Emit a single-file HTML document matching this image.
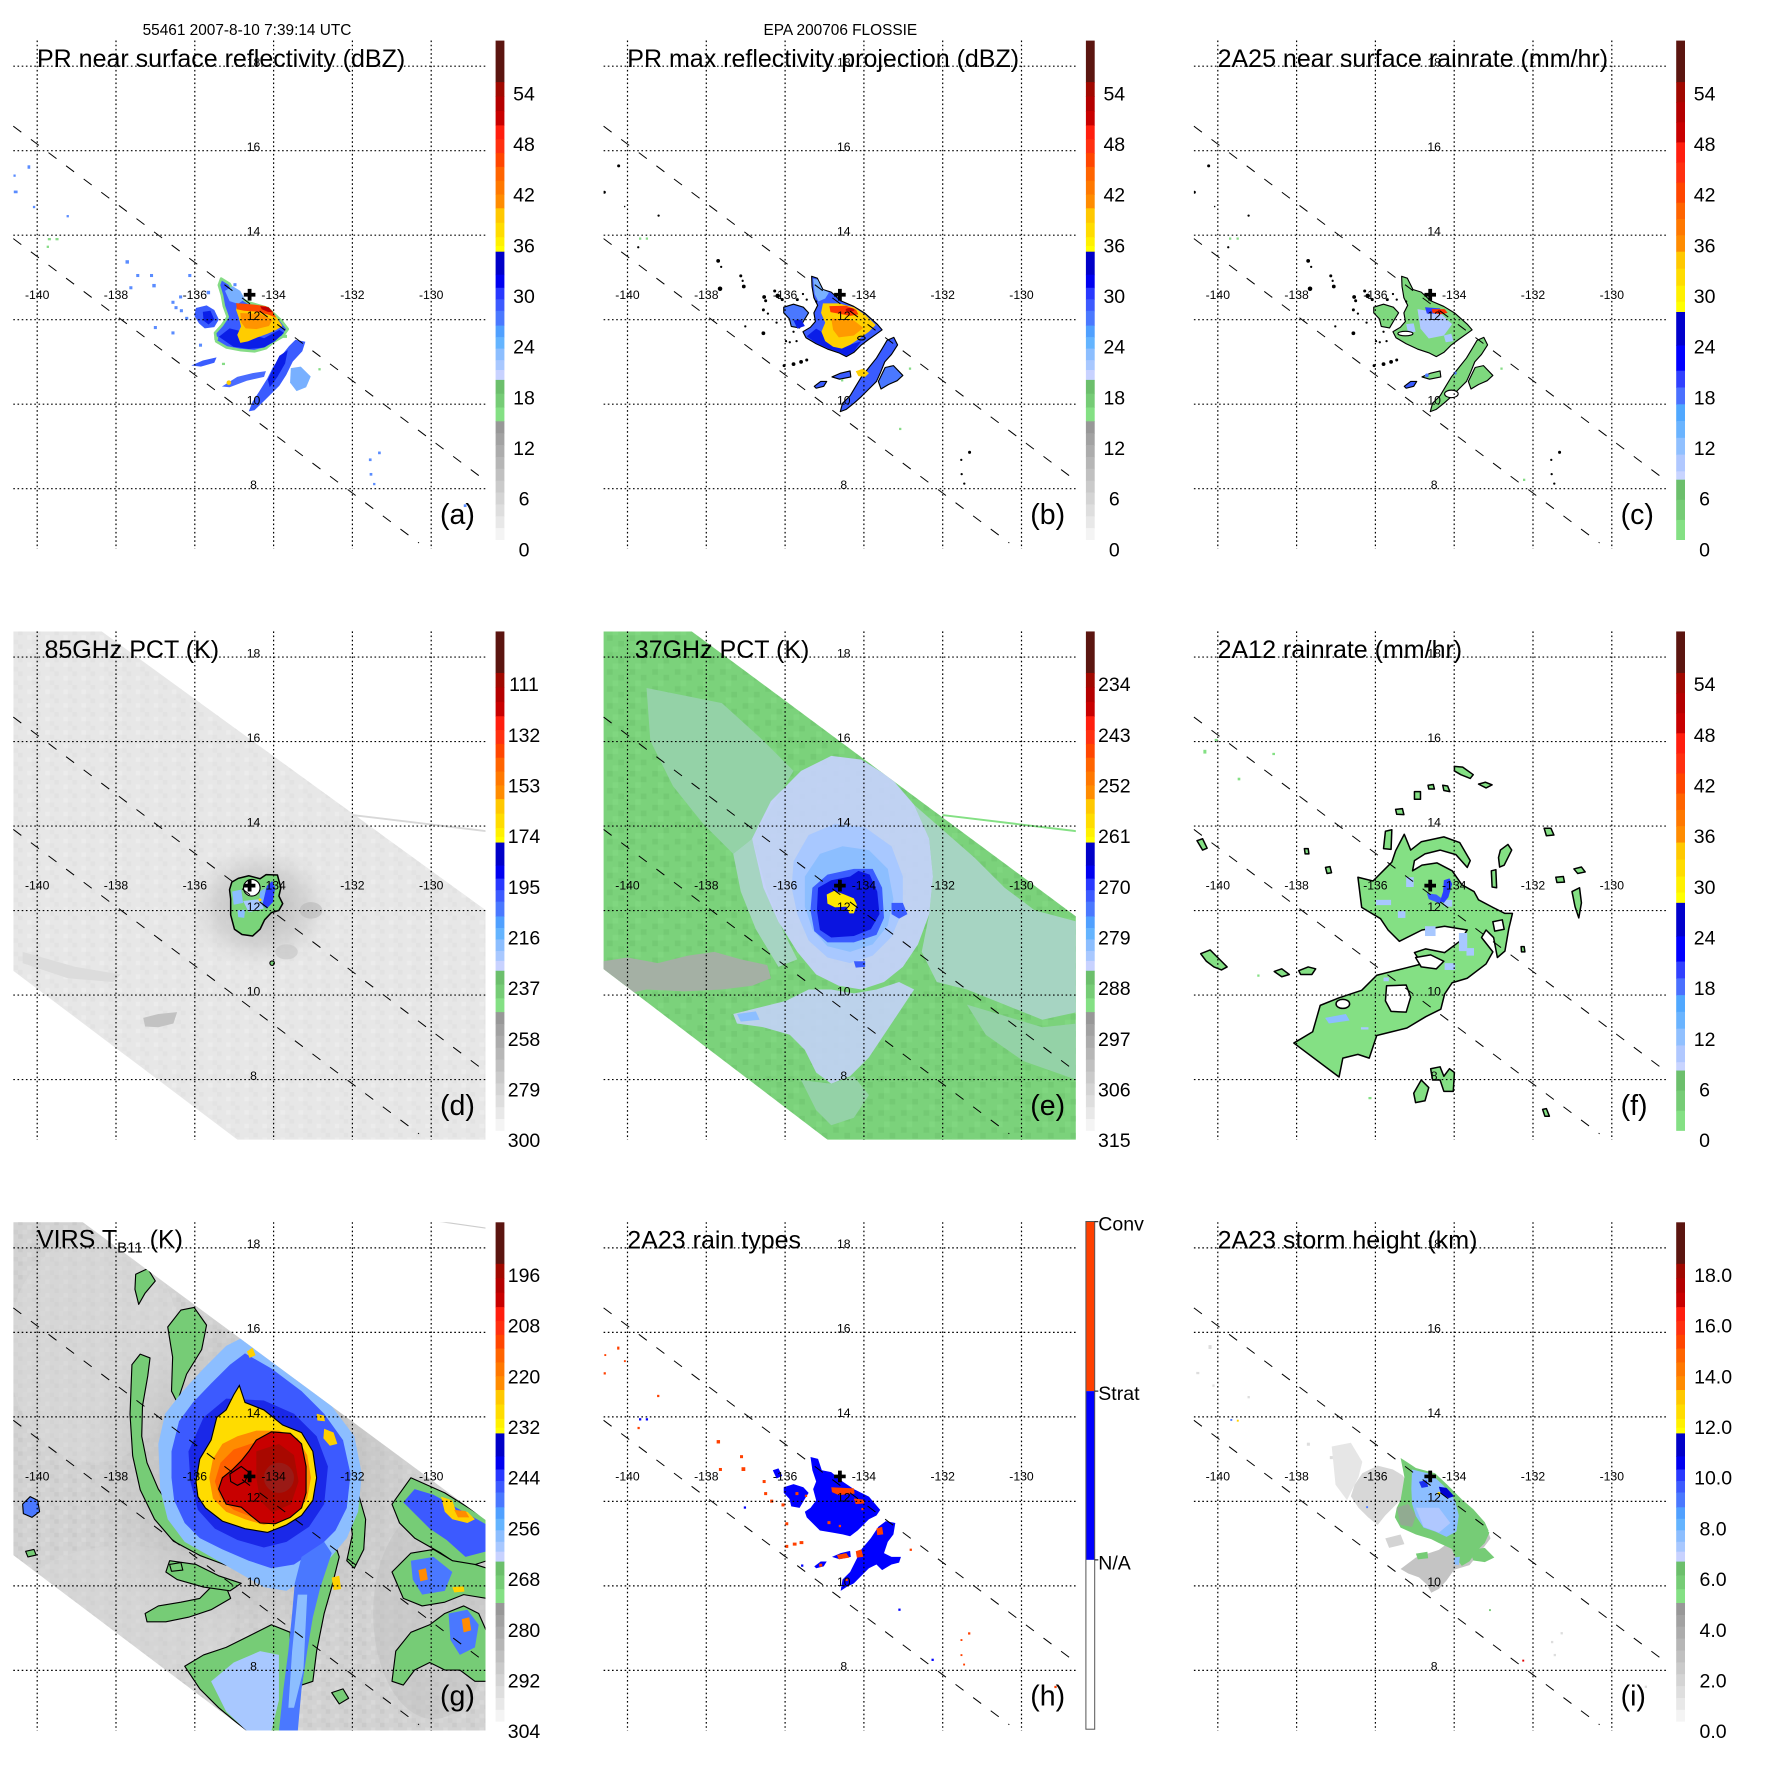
<!DOCTYPE html>
<html><head><meta charset="utf-8"><style>
html,body{margin:0;padding:0;background:#fff;}
svg{display:block;font-family:"Liberation Sans",Arial,sans-serif;}
</style></head><body>
<svg width="1771" height="1771" viewBox="0 0 1771 1771" xmlns="http://www.w3.org/2000/svg">
<defs>
<clipPath id="plot"><rect x="13.3" y="40.5" width="472.2" height="508.3"/></clipPath>
<clipPath id="swg"><polygon points="35,110 217,110 1292,905 1292,1462 655,1462 35,995"/></clipPath>
<clipPath id="swe"><polygon points="35,110 270,110 1292,868 1292,1462 635,1462 35,1005"/></clipPath>
<clipPath id="swd"><polygon points="35,110 270,110 1292,852 1292,1462 635,1462 35,1010"/></clipPath>
<pattern id="motG" width="60" height="45" patternUnits="userSpaceOnUse">
 <rect x="15" y="0" width="15" height="15" fill="#6cc06c"/><rect x="45" y="30" width="15" height="15" fill="#6cc06c"/><rect x="0" y="15" width="15" height="15" fill="#86dc86"/>
</pattern>
<pattern id="motGr" width="48" height="36" patternUnits="userSpaceOnUse">
 <rect x="0" y="0" width="12" height="12" fill="#c4c4c4"/><rect x="24" y="12" width="12" height="12" fill="#dedede"/><rect x="36" y="24" width="12" height="12" fill="#c8c8c8"/><rect x="12" y="24" width="12" height="12" fill="#dadada"/>
</pattern>
<pattern id="motD" width="48" height="36" patternUnits="userSpaceOnUse">
 <rect x="0" y="0" width="12" height="12" fill="#dedede"/><rect x="24" y="12" width="12" height="12" fill="#efefef"/><rect x="36" y="24" width="12" height="12" fill="#e0e0e0"/>
</pattern>
<radialGradient id="rgG" cx="0.5" cy="0.5" r="0.5">
 <stop offset="0" stop-color="#a8a8a8" stop-opacity="0.7"/><stop offset="0.6" stop-color="#b8b8b8" stop-opacity="0.45"/><stop offset="1" stop-color="#c8c8c8" stop-opacity="0"/>
</radialGradient>
<radialGradient id="rgD" cx="0.5" cy="0.5" r="0.5">
 <stop offset="0" stop-color="#a8a8a8" stop-opacity="0.8"/><stop offset="0.6" stop-color="#c0c0c0" stop-opacity="0.5"/><stop offset="1" stop-color="#d8d8d8" stop-opacity="0"/>
</radialGradient>
<g id="grid">
 <g stroke="#000" stroke-width="1.2" stroke-dasharray="1.6 2.6" fill="none">
  <line x1="37.2" y1="40.5" x2="37.2" y2="549"/><line x1="116" y1="40.5" x2="116" y2="549"/><line x1="194.8" y1="40.5" x2="194.8" y2="549"/><line x1="273.6" y1="40.5" x2="273.6" y2="549"/><line x1="352.4" y1="40.5" x2="352.4" y2="549"/><line x1="431.2" y1="40.5" x2="431.2" y2="549"/>
  <line x1="13.3" y1="66.2" x2="485.5" y2="66.2"/><line x1="13.3" y1="150.7" x2="485.5" y2="150.7"/><line x1="13.3" y1="235.2" x2="485.5" y2="235.2"/><line x1="13.3" y1="319.7" x2="485.5" y2="319.7"/><line x1="13.3" y1="404.2" x2="485.5" y2="404.2"/><line x1="13.3" y1="488.7" x2="485.5" y2="488.7"/>
 </g>
 <g stroke="#000" stroke-width="1" stroke-dasharray="10 12" fill="none">
  <line x1="13.3" y1="126.2" x2="485.5" y2="480.6"/>
  <line x1="13.3" y1="238.6" x2="419" y2="543"/>
 </g>
 <path d="M243.8,292.9h11.6v3.7h-11.6z M247.7,288.9h3.8v11.7h-3.8z" fill="#000"/>
</g>
<g id="cbA">
 <rect x="495.6" y="40.6" width="8.8" height="42" fill="#5b1510"/>
 <rect x="495.6" y="82.1" width="8.8" height="14.9" fill="#a00800"/>
 <rect x="495.6" y="96.5" width="8.8" height="15" fill="#b40000"/>
 <rect x="495.6" y="111" width="8.8" height="14.9" fill="#c80000"/>
 <rect x="495.6" y="125.4" width="8.8" height="14.3" fill="#ff1e0e"/>
 <rect x="495.6" y="139.2" width="8.8" height="14.4" fill="#ff3010"/>
 <rect x="495.6" y="153.1" width="8.8" height="14.3" fill="#ff4600"/>
 <rect x="495.6" y="166.9" width="8.8" height="14.3" fill="#ff6400"/>
 <rect x="495.6" y="180.7" width="8.8" height="14.3" fill="#ff7800"/>
 <rect x="495.6" y="194.5" width="8.8" height="14.3" fill="#ff8c00"/>
 <rect x="495.6" y="208.3" width="8.8" height="15" fill="#ffc800"/>
 <rect x="495.6" y="222.8" width="8.8" height="15" fill="#ffdc00"/>
 <rect x="495.6" y="237.2" width="8.8" height="9.3" fill="#fff000"/>
 <rect x="495.6" y="246" width="8.8" height="6.2" fill="#ffff00"/>
 <rect x="495.6" y="251.7" width="8.8" height="23.5" fill="#0000c8"/>
 <rect x="495.6" y="274.7" width="8.8" height="13.6" fill="#0000f0"/>
 <rect x="495.6" y="287.8" width="8.8" height="12" fill="#2838ff"/>
 <rect x="495.6" y="299.3" width="8.8" height="12" fill="#3c5aff"/>
 <rect x="495.6" y="310.8" width="8.8" height="15.3" fill="#4a78ff"/>
 <rect x="495.6" y="325.6" width="8.8" height="12" fill="#50a0ff"/>
 <rect x="495.6" y="337.1" width="8.8" height="12" fill="#64b4ff"/>
 <rect x="495.6" y="348.6" width="8.8" height="12" fill="#8cbeff"/>
 <rect x="495.6" y="360.1" width="8.8" height="10.4" fill="#a8c8ff"/>
 <rect x="495.6" y="370" width="8.8" height="10.4" fill="#c8d2ff"/>
 <rect x="495.6" y="379.9" width="8.8" height="14.3" fill="#6cbf6c"/>
 <rect x="495.6" y="393.7" width="8.8" height="14.3" fill="#76cc76"/>
 <rect x="495.6" y="407.5" width="8.8" height="14.3" fill="#84e084"/>
 <rect x="495.6" y="421.3" width="8.8" height="12.4" fill="#989898"/>
 <rect x="495.6" y="433.2" width="8.8" height="12.4" fill="#a2a2a2"/>
 <rect x="495.6" y="445" width="8.8" height="12.4" fill="#acacac"/>
 <rect x="495.6" y="456.9" width="8.8" height="12.4" fill="#b6b6b6"/>
 <rect x="495.6" y="468.8" width="8.8" height="12.4" fill="#c0c0c0"/>
 <rect x="495.6" y="480.7" width="8.8" height="12.4" fill="#cacaca"/>
 <rect x="495.6" y="492.5" width="8.8" height="12.4" fill="#d4d4d4"/>
 <rect x="495.6" y="504.4" width="8.8" height="12.4" fill="#dedede"/>
 <rect x="495.6" y="516.3" width="8.8" height="12.4" fill="#e8e8e8"/>
 <rect x="495.6" y="528.1" width="8.8" height="11.9" fill="#f4f4f4"/>
</g>
<g id="cbC">
 <rect x="495.6" y="40.6" width="8.8" height="42" fill="#5b1510"/>
 <rect x="495.6" y="82.1" width="8.8" height="20.6" fill="#a00800"/>
 <rect x="495.6" y="102.2" width="8.8" height="20.6" fill="#b40000"/>
 <rect x="495.6" y="122.3" width="8.8" height="20.6" fill="#c80000"/>
 <rect x="495.6" y="142.4" width="8.8" height="20.6" fill="#ff1e0e"/>
 <rect x="495.6" y="162.5" width="8.8" height="20.6" fill="#ff3010"/>
 <rect x="495.6" y="182.6" width="8.8" height="20.6" fill="#ff4600"/>
 <rect x="495.6" y="202.7" width="8.8" height="16.8" fill="#ff6400"/>
 <rect x="495.6" y="219" width="8.8" height="16.8" fill="#ff7800"/>
 <rect x="495.6" y="235.3" width="8.8" height="16.9" fill="#ff8c00"/>
 <rect x="495.6" y="251.7" width="8.8" height="17.5" fill="#ffc800"/>
 <rect x="495.6" y="268.7" width="8.8" height="17.5" fill="#ffdc00"/>
 <rect x="495.6" y="285.7" width="8.8" height="16.5" fill="#fff000"/>
 <rect x="495.6" y="301.7" width="8.8" height="10.8" fill="#ffff00"/>
 <rect x="495.6" y="312" width="8.8" height="34" fill="#0000cc"/>
 <rect x="495.6" y="345.5" width="8.8" height="25.7" fill="#0000ff"/>
 <rect x="495.6" y="370.7" width="8.8" height="17.3" fill="#3040ff"/>
 <rect x="495.6" y="387.5" width="8.8" height="17.3" fill="#4a70ff"/>
 <rect x="495.6" y="404.3" width="8.8" height="17.2" fill="#50a8ff"/>
 <rect x="495.6" y="421" width="8.8" height="17.3" fill="#6ab4ff"/>
 <rect x="495.6" y="437.8" width="8.8" height="17.3" fill="#90c0ff"/>
 <rect x="495.6" y="454.6" width="8.8" height="17.2" fill="#b0c8ff"/>
 <rect x="495.6" y="471.3" width="8.8" height="8.9" fill="#c8d4ff"/>
 <rect x="495.6" y="479.7" width="8.8" height="20.6" fill="#6cbf6c"/>
 <rect x="495.6" y="499.8" width="8.8" height="20.6" fill="#76cc76"/>
 <rect x="495.6" y="519.9" width="8.8" height="20.1" fill="#84e084"/>
</g>
</defs>

<!-- ================= (a) ================= -->
<g transform="translate(0,0)">
 <g clip-path="url(#plot)"><g transform="scale(0.38266)">
  <polygon fill="#3a5cff" stroke="#86dc86" stroke-width="7" stroke-linejoin="round" points="578,728 600,742 615,770 648,790 700,805 735,838 752,860 738,880 715,893 695,910 665,918 630,915 592,908 565,892 562,870 580,850 595,828 585,800 580,772 572,745"/>
  <polygon fill="#0a1ee8" points="572,880 600,858 640,868 690,884 730,862 742,870 718,892 690,908 650,912 610,906"/>
  <polygon fill="#78b0ff" points="588,760 608,748 628,760 640,782 622,794 600,787"/>
  <polygon fill="#ffcc00" points="620,795 665,800 695,806 722,828 738,852 722,862 700,872 672,882 648,892 628,896 620,875 630,853 624,830 617,810"/>
  <polygon fill="#ff9400" points="628,818 680,820 712,836 703,852 670,860 642,858 630,842"/>
  <polygon fill="#ff4a00" points="617,792 665,796 695,800 713,815 722,830 700,822 668,814 638,812 619,808"/>
  <polygon fill="#c00000" points="680,800 702,803 714,816 700,815 684,808"/>
  <polygon fill="#3a5cff" points="512,805 540,798 560,810 572,835 560,855 535,858 520,845 508,825"/>
  <polygon fill="#0a1ee8" points="530,815 550,812 560,835 545,848 532,838"/>
  <polygon fill="#3a5cff" points="772,888 798,893 790,918 765,945 748,980 730,1008 708,1030 688,1050 665,1072 650,1075 660,1050 678,1022 698,990 713,960 735,930 755,905"/>
  <polygon fill="#0a1ee8" points="730,930 752,915 745,950 725,985 705,1012 700,992 715,960"/>
  <polygon fill="#78b0ff" points="760,962 786,958 812,984 800,1012 775,1022 758,1000"/>
  <polygon fill="#4a6cff" points="580,1010 620,985 660,975 695,970 690,985 645,995 600,1012"/>
  <circle fill="#ffcc00" cx="598" cy="1000" r="6"/>
  <polygon fill="#3a5cff" points="500,955 530,942 566,934 560,948 525,958"/>
  <g fill="#5a8cff">
   <rect x="328" y="680" width="9" height="9"/><rect x="356" y="716" width="8" height="8"/><rect x="392" y="716" width="8" height="8"/><rect x="398" y="742" width="9" height="9"/><rect x="338" y="748" width="8" height="8"/><rect x="448" y="786" width="8" height="8"/><rect x="456" y="800" width="8" height="8"/><rect x="470" y="808" width="8" height="8"/><rect x="484" y="828" width="8" height="8"/><rect x="448" y="866" width="8" height="8"/><rect x="402" y="852" width="8" height="8"/><rect x="492" y="716" width="8" height="8"/><rect x="468" y="772" width="8" height="8"/><rect x="520" y="898" width="8" height="8"/><rect x="72" y="432" width="7" height="9"/><rect x="36" y="498" width="10" height="7"/><rect x="35" y="456" width="6" height="6"/><rect x="86" y="538" width="6" height="6"/><rect x="174" y="562" width="6" height="6"/><rect x="964" y="1198" width="7" height="7"/><rect x="988" y="1180" width="7" height="7"/><rect x="966" y="1236" width="7" height="7"/><rect x="975" y="1262" width="6" height="6"/><rect x="1212" y="1318" width="7" height="7"/><rect x="540" y="760" width="9" height="9"/><rect x="610" y="740" width="8" height="8"/>
  </g>
  <g fill="#86dc86"><rect x="125" y="622" width="8" height="6"/><rect x="145" y="622" width="8" height="6"/><rect x="122" y="642" width="6" height="6"/><rect x="832" y="962" width="6" height="6"/><rect x="580" y="948" width="8" height="6"/><rect x="560" y="880" width="10" height="8"/><rect x="740" y="875" width="10" height="8"/></g>
 </g></g>
 <use href="#grid"/>
 <g font-size="12.2" text-anchor="middle" fill="#000">
  <text x="37.2" y="298.8">-140</text><text x="116" y="298.8">-138</text><text x="194.8" y="298.8">-136</text><text x="273.6" y="298.8">-134</text><text x="352.4" y="298.8">-132</text><text x="431.2" y="298.8">-130</text>
  <text x="253.5" y="66.5">18</text><text x="253.5" y="151">16</text><text x="253.5" y="235.5">14</text><text x="253.5" y="320">12</text><text x="253.5" y="404.5">10</text><text x="253.5" y="489">8</text>
 </g>
 <use href="#cbA"/>
 <g font-size="19.5" text-anchor="middle"><text x="524" y="100.3">54</text><text x="524" y="151">48</text><text x="524" y="201.6">42</text><text x="524" y="252.3">36</text><text x="524" y="303">30</text><text x="524" y="353.7">24</text><text x="524" y="404.4">18</text><text x="524" y="455.1">12</text><text x="524" y="505.7">6</text><text x="524" y="556.4">0</text></g>
 <text x="247" y="35" font-size="15.4" text-anchor="middle">55461 2007-8-10 7:39:14 UTC</text>
 <text x="37" y="67" font-size="25">PR near surface reflectivity (dBZ)</text>
 <text x="440" y="524" font-size="28.5">(a)</text>
</g>

<!-- ================= (b) ================= -->
<g transform="translate(590.3,0)">
 <g clip-path="url(#plot)"><g transform="translate(-0.3,0) scale(0.37693)">
  <g stroke="#000" stroke-width="3" stroke-linejoin="round">
   <polygon fill="#3a5cff" points="588,733 603,738 618,768 640,775 665,798 700,813 728,830 762,860 775,875 760,886 740,900 720,915 700,935 680,946 660,936 630,926 600,912 573,896 565,880 585,868 598,853 594,830 604,810 594,790 589,760"/>
   <polygon fill="#3a5cff" points="788,903 806,895 816,915 800,940 782,960 770,990 760,1012 740,1032 720,1052 700,1070 680,1086 664,1092 670,1070 690,1050 705,1025 720,1000 740,975 760,950 775,925"/>
   <polygon fill="#4a78ff" points="783,975 805,970 830,996 815,1010 792,1020 772,1032 765,1012"/>
   <polygon fill="#3a5cff" points="642,1000 665,990 690,984 692,1000 662,1006"/>
   <polygon fill="#3a5cff" points="595,1025 612,1012 628,1012 620,1025 600,1030"/>
   <polygon fill="#4a78ff" points="514,815 540,807 566,815 580,830 570,846 556,870 534,866 529,846 514,830"/>
  </g>
  <polygon fill="#0a1ee8" points="575,892 600,872 640,895 680,918 720,905 700,933 680,944 660,934 630,924 600,910"/>
  <polygon fill="#78b0ff" points="592,740 604,742 616,768 634,776 624,792 606,800 596,780"/>
  <polygon fill="#ffd000" points="618,805 660,805 700,815 730,835 758,862 740,880 712,900 690,915 668,925 645,920 624,905 614,880 624,856 613,830"/>
  <polygon fill="#ff9a00" points="640,845 700,850 725,870 700,890 660,895 645,875"/>
  <polygon fill="#ff3a00" points="635,812 680,811 706,822 712,834 690,838 660,832 638,828"/>
  <ellipse cx="690" cy="822" rx="12" ry="5" fill="#c00000"/>
  <ellipse cx="720" cy="897" rx="10" ry="5" fill="none" stroke="#000" stroke-width="3"/>
  <polygon fill="#ffd000" points="705,985 725,978 740,990 730,1000 712,998"/>
  <polygon fill="#0a1ee8" points="540,850 560,848 570,865 550,872"/>
  <g fill="#000">
   <circle cx="340" cy="692" r="5"/><circle cx="348" cy="708" r="3"/><circle cx="400" cy="732" r="4"/><circle cx="405" cy="745" r="3"/><circle cx="345" cy="766" r="6"/><circle cx="408" cy="760" r="5"/><circle cx="462" cy="788" r="5"/><circle cx="466" cy="798" r="4"/><circle cx="490" cy="772" r="4"/><circle cx="498" cy="785" r="6"/><circle cx="510" cy="795" r="4"/><circle cx="460" cy="822" r="4"/><circle cx="472" cy="832" r="3"/><circle cx="495" cy="856" r="3"/><circle cx="540" cy="880" r="3"/><circle cx="520" cy="905" r="3"/><circle cx="460" cy="884" r="5"/><circle cx="412" cy="866" r="3"/><circle cx="515" cy="970" r="4"/><circle cx="540" cy="966" r="5"/><circle cx="560" cy="960" r="5"/><circle cx="575" cy="955" r="4"/><circle cx="530" cy="908" r="3"/><circle cx="548" cy="905" r="3"/><circle cx="76" cy="440" r="4"/><circle cx="38" cy="510" r="4"/><circle cx="182" cy="572" r="3"/><circle cx="92" cy="548" r="2"/><circle cx="128" cy="656" r="3"/><circle cx="985" cy="1220" r="3"/><circle cx="1007" cy="1200" r="4"/><circle cx="986" cy="1258" r="3"/><circle cx="993" cy="1283" r="3"/><circle cx="550" cy="795" r="4"/><circle cx="575" cy="795" r="3"/><circle cx="600" cy="800" r="3"/><circle cx="565" cy="780" r="3"/>
  </g>
  <g fill="#86dc86"><rect x="130" y="630" width="6" height="6"/><rect x="148" y="630" width="6" height="6"/><rect x="846" y="975" width="6" height="6"/><rect x="820" y="1135" width="6" height="6"/><rect x="666" y="1006" width="6" height="6"/></g>
 </g></g>
 <use href="#grid"/>
 <g font-size="12.2" text-anchor="middle" fill="#000">
  <text x="37.2" y="298.8">-140</text><text x="116" y="298.8">-138</text><text x="194.8" y="298.8">-136</text><text x="273.6" y="298.8">-134</text><text x="352.4" y="298.8">-132</text><text x="431.2" y="298.8">-130</text>
  <text x="253.5" y="66.5">18</text><text x="253.5" y="151">16</text><text x="253.5" y="235.5">14</text><text x="253.5" y="320">12</text><text x="253.5" y="404.5">10</text><text x="253.5" y="489">8</text>
 </g>
 <use href="#cbA"/>
 <g font-size="19.5" text-anchor="middle"><text x="524" y="100.3">54</text><text x="524" y="151">48</text><text x="524" y="201.6">42</text><text x="524" y="252.3">36</text><text x="524" y="303">30</text><text x="524" y="353.7">24</text><text x="524" y="404.4">18</text><text x="524" y="455.1">12</text><text x="524" y="505.7">6</text><text x="524" y="556.4">0</text></g>
 <text x="250" y="35" font-size="15.4" text-anchor="middle">EPA 200706 FLOSSIE</text>
 <text x="37" y="67" font-size="25">PR max reflectivity projection (dBZ)</text>
 <text x="440" y="524" font-size="28.5">(b)</text>
</g>

<!-- ================= (c) ================= -->
<g transform="translate(1180.6,0)">
 <g clip-path="url(#plot)"><g transform="translate(-0.6,0) scale(0.37693)">
  <g stroke="#000" stroke-width="3" stroke-linejoin="round" fill="#7ed87e">
   <polygon points="588,733 603,738 618,768 640,775 665,798 700,813 728,830 762,860 775,875 760,886 740,900 720,915 700,935 680,946 660,936 630,926 600,912 573,896 565,880 585,868 598,853 594,830 604,810 594,790 589,760"/>
   <polygon points="788,903 806,895 816,915 800,940 782,960 770,990 760,1012 740,1032 720,1052 700,1070 680,1086 664,1092 670,1070 690,1050 705,1025 720,1000 740,975 760,950 775,925"/>
   <polygon points="783,975 805,970 830,996 815,1010 792,1020 772,1032 765,1012"/>
   <polygon points="642,1000 665,990 690,984 692,1000 662,1006"/>
   <polygon fill="#3a5cff" points="595,1025 612,1012 628,1012 620,1025 600,1030"/>
   <polygon points="514,815 540,807 566,815 580,830 570,846 556,870 534,866 529,846 514,830"/>
  </g>
  <polygon fill="#b0c8ff" points="630,820 690,830 722,860 700,890 660,898 638,872"/>
  <polygon fill="#a8c8ff" points="600,860 620,858 625,880 605,882"/>
  <polygon fill="#a8c8ff" points="700,890 720,885 725,905 705,908"/>
  <polygon fill="#2a40ff" points="650,815 690,818 695,832 655,832"/>
  <polygon fill="#ff3000" points="668,820 702,820 710,830 690,834 670,830"/>
  <circle cx="688" cy="826" r="4" fill="#c00000"/>
  <circle cx="730" cy="990" r="4" fill="#4a78ff"/><circle cx="655" cy="996" r="5" fill="#4a78ff"/>
  <ellipse cx="720" cy="1045" rx="18" ry="10" fill="#fff" stroke="#000" stroke-width="3"/>
  <ellipse cx="598" cy="885" rx="20" ry="6" fill="#fff" stroke="#000" stroke-width="3"/>
  <g fill="#000">
   <circle cx="340" cy="692" r="5"/><circle cx="348" cy="708" r="3"/><circle cx="400" cy="732" r="4"/><circle cx="405" cy="745" r="3"/><circle cx="345" cy="766" r="6"/><circle cx="408" cy="760" r="5"/><circle cx="462" cy="788" r="5"/><circle cx="466" cy="798" r="4"/><circle cx="490" cy="772" r="4"/><circle cx="498" cy="785" r="6"/><circle cx="510" cy="795" r="4"/><circle cx="460" cy="822" r="4"/><circle cx="472" cy="832" r="3"/><circle cx="495" cy="856" r="3"/><circle cx="540" cy="880" r="3"/><circle cx="520" cy="905" r="3"/><circle cx="460" cy="884" r="5"/><circle cx="412" cy="866" r="3"/><circle cx="515" cy="970" r="4"/><circle cx="540" cy="966" r="5"/><circle cx="560" cy="960" r="5"/><circle cx="575" cy="955" r="4"/><circle cx="530" cy="908" r="3"/><circle cx="548" cy="905" r="3"/><circle cx="76" cy="440" r="4"/><circle cx="38" cy="510" r="4"/><circle cx="182" cy="572" r="3"/><circle cx="92" cy="548" r="2"/><circle cx="128" cy="656" r="3"/><circle cx="985" cy="1220" r="3"/><circle cx="1007" cy="1200" r="4"/><circle cx="986" cy="1258" r="3"/><circle cx="993" cy="1283" r="3"/><circle cx="550" cy="795" r="4"/><circle cx="575" cy="795" r="3"/><circle cx="600" cy="800" r="3"/><circle cx="565" cy="780" r="3"/>
  </g>
  <g fill="#86dc86"><rect x="130" y="630" width="6" height="6"/><rect x="150" y="630" width="6" height="6"/><rect x="850" y="975" width="6" height="6"/><rect x="910" y="1270" width="6" height="6"/></g>
 </g></g>
 <use href="#grid"/>
 <g font-size="12.2" text-anchor="middle" fill="#000">
  <text x="37.2" y="298.8">-140</text><text x="116" y="298.8">-138</text><text x="194.8" y="298.8">-136</text><text x="273.6" y="298.8">-134</text><text x="352.4" y="298.8">-132</text><text x="431.2" y="298.8">-130</text>
  <text x="253.5" y="66.5">18</text><text x="253.5" y="151">16</text><text x="253.5" y="235.5">14</text><text x="253.5" y="320">12</text><text x="253.5" y="404.5">10</text><text x="253.5" y="489">8</text>
 </g>
 <use href="#cbC"/>
 <g font-size="19.5" text-anchor="middle"><text x="524" y="100.3">54</text><text x="524" y="151">48</text><text x="524" y="201.6">42</text><text x="524" y="252.3">36</text><text x="524" y="303">30</text><text x="524" y="353.7">24</text><text x="524" y="404.4">18</text><text x="524" y="455.1">12</text><text x="524" y="505.7">6</text><text x="524" y="556.4">0</text></g>
 <text x="37" y="67" font-size="25">2A25 near surface rainrate (mm/hr)</text>
 <text x="440" y="524" font-size="28.5">(c)</text>
</g>

<!-- ================= (d) ================= -->
<g transform="translate(0,590.85)">
 <g clip-path="url(#plot)"><g transform="translate(0,-0.85) scale(0.37693)">
  <g clip-path="url(#swd)">
   <rect x="0" y="0" width="1300" height="1470" fill="#e7e7e7"/>
   <rect x="0" y="0" width="1300" height="1470" fill="url(#motD)" opacity="0.6"/>
   <ellipse cx="690" cy="840" rx="200" ry="170" fill="url(#rgD)"/>
   <ellipse cx="825" cy="850" rx="30" ry="22" fill="#b8b8b8" opacity="0.6"/>
   <ellipse cx="760" cy="960" rx="30" ry="20" fill="#c4c4c4" opacity="0.6"/>
   <polygon fill="#c2c2c2" points="380,1135 420,1125 470,1120 460,1150 420,1160 385,1158"/>
   <polygon fill="#dcdcdc" points="60,960 200,1000 320,1020 300,1040 180,1030 60,990"/>
  </g>
  <line x1="935" y1="597" x2="1292" y2="640" stroke="#d8d8d8" stroke-width="5"/>
  <polygon fill="#7ad47a" stroke="#000" stroke-width="4" stroke-linejoin="round" points="615,775 632,765 660,758 690,766 706,755 736,756 745,790 740,812 750,832 740,850 720,856 702,875 690,900 670,918 642,914 622,900 612,862 612,820 609,795"/>
  <polygon fill="#8cbeff" points="616,800 640,795 645,830 620,835"/>
  <polygon fill="#a8c8ff" points="645,825 690,820 700,845 660,855"/>
  <polygon fill="#8cbeff" points="630,850 650,848 648,870 632,868"/>
  <polygon fill="#78b0ff" points="690,800 705,790 700,830 688,825"/>
  <polygon fill="#2a40ff" points="708,785 722,772 730,790 724,828 708,845 696,836"/>
  <circle cx="668" cy="790" r="22" fill="#fff" stroke="#000" stroke-width="3"/>
  <circle cx="690" cy="822" r="4" fill="#ffe000"/>
  <circle cx="722" cy="990" r="6" fill="#7ad47a" stroke="#000" stroke-width="3"/>
 </g></g>
 <use href="#grid"/>
 <g font-size="12.2" text-anchor="middle" fill="#000">
  <text x="37.2" y="298.8">-140</text><text x="116" y="298.8">-138</text><text x="194.8" y="298.8">-136</text><text x="273.6" y="298.8">-134</text><text x="352.4" y="298.8">-132</text><text x="431.2" y="298.8">-130</text>
  <text x="253.5" y="66.5">18</text><text x="253.5" y="151">16</text><text x="253.5" y="235.5">14</text><text x="253.5" y="320">12</text><text x="253.5" y="404.5">10</text><text x="253.5" y="489">8</text>
 </g>
 <use href="#cbA"/>
 <g font-size="19.5" text-anchor="middle"><text x="524" y="100.3">111</text><text x="524" y="151">132</text><text x="524" y="201.6">153</text><text x="524" y="252.3">174</text><text x="524" y="303">195</text><text x="524" y="353.7">216</text><text x="524" y="404.4">237</text><text x="524" y="455.1">258</text><text x="524" y="505.7">279</text><text x="524" y="556.4">300</text></g>
 <text x="44.5" y="67" font-size="25">85GHz PCT (K)</text>
 <text x="440" y="524" font-size="28.5">(d)</text>
</g>

<!-- ================= (e) ================= -->
<g transform="translate(590.3,590.85)">
 <g clip-path="url(#plot)"><g transform="translate(-0.3,-0.85) scale(0.37693)">
  <g clip-path="url(#swe)">
   <rect x="0" y="0" width="1300" height="1470" fill="#7bd27b"/>
   <rect x="0" y="0" width="1300" height="1470" fill="url(#motG)" opacity="0.45"/>
   <polygon fill="#a4b0a4" points="35,985 100,975 180,990 260,970 330,960 400,980 470,995 480,1030 430,1050 350,1060 250,1065 150,1060 80,1075 35,1030"/>
   <polygon fill="#94d2a7" points="150,260 350,300 460,400 540,480 430,660 380,700 300,620 220,520 160,400"/>
   <polygon fill="#a6d4c2" points="860,570 940,640 1020,710 1100,790 1180,850 1292,880 1292,1120 1200,1140 1100,1100 1000,1060 920,1040 880,960 900,860 910,760 900,660"/>
   <polygon fill="#94d2a7" points="1000,1100 1100,1130 1200,1160 1292,1150 1292,1300 1150,1250 1050,1180"/>
   <polygon fill="#a6d4c2" points="380,700 430,660 470,800 510,900 550,980 500,1000 440,900 400,800"/>
   <polygon fill="#c8d2ff" opacity="0.9" points="430,660 480,560 560,480 640,440 720,450 800,500 860,570 900,660 910,760 900,860 870,940 830,1000 780,1040 720,1060 660,1050 600,1020 550,960 500,880 460,790"/>
   <polygon fill="#c8d2ff" opacity="0.85" points="380,1125 440,1110 520,1090 580,1060 640,1060 700,1070 760,1060 820,1040 860,1060 820,1120 780,1180 740,1240 690,1290 640,1310 600,1280 570,1220 530,1180 460,1160 390,1150"/>
   <polygon fill="#94d2a7" points="560,1300 640,1310 700,1290 740,1340 700,1400 640,1420 600,1380"/>
   <polygon fill="#a8c8ff" points="540,720 580,650 650,620 730,630 800,680 830,760 830,850 800,920 750,970 690,990 630,975 580,930 550,860 535,790"/>
   <polygon fill="#8cbeff" points="570,760 610,700 670,680 740,690 790,740 805,820 790,890 750,940 690,960 630,945 590,900 570,840"/>
   <polygon fill="#3a5cff" points="590,790 630,755 700,740 750,740 775,790 780,870 760,915 700,935 630,935 595,905 585,850"/>
   <polygon fill="#0a14e0" points="605,790 640,770 690,760 712,745 742,755 762,800 768,860 745,900 700,918 640,922 610,902 602,850"/>
   <polygon fill="#ffe800" points="628,808 648,798 675,808 700,818 708,835 700,858 688,858 680,840 650,842 630,832"/>
   <polygon fill="#3a5cff" points="800,830 830,830 842,860 820,872 800,860"/>
   <polygon fill="#3a5cff" points="700,985 730,985 730,1000 705,1002"/>
   <polygon fill="#8cbeff" points="390,1125 440,1118 450,1140 400,1145"/>
  </g>
  <line x1="935" y1="597" x2="1292" y2="640" stroke="#84e084" stroke-width="5"/>
 </g></g>
 <use href="#grid"/>
 <g font-size="12.2" text-anchor="middle" fill="#000">
  <text x="37.2" y="298.8">-140</text><text x="116" y="298.8">-138</text><text x="194.8" y="298.8">-136</text><text x="273.6" y="298.8">-134</text><text x="352.4" y="298.8">-132</text><text x="431.2" y="298.8">-130</text>
  <text x="253.5" y="66.5">18</text><text x="253.5" y="151">16</text><text x="253.5" y="235.5">14</text><text x="253.5" y="320">12</text><text x="253.5" y="404.5">10</text><text x="253.5" y="489">8</text>
 </g>
 <use href="#cbA"/>
 <g font-size="19.5" text-anchor="middle"><text x="524" y="100.3">234</text><text x="524" y="151">243</text><text x="524" y="201.6">252</text><text x="524" y="252.3">261</text><text x="524" y="303">270</text><text x="524" y="353.7">279</text><text x="524" y="404.4">288</text><text x="524" y="455.1">297</text><text x="524" y="505.7">306</text><text x="524" y="556.4">315</text></g>
 <text x="44.5" y="67" font-size="25">37GHz PCT (K)</text>
 <text x="440" y="524" font-size="28.5">(e)</text>
</g>

<!-- ================= (f) ================= -->
<g transform="translate(1180.6,590.85)">
 <g clip-path="url(#plot)"><g transform="translate(-0.6,-0.85) scale(0.37693)">
  <g stroke="#000" stroke-width="4" stroke-linejoin="round">
   <polygon fill="#84e084" points="595,648 612,690 640,668 700,655 742,670 770,718 762,736 732,702 690,690 650,700 622,718 617,745 642,730 682,724 722,745 748,782 780,800 792,822 830,842 862,858 882,858 872,900 862,958 842,975 832,922 812,902 800,922 830,960 812,992 762,1030 722,1042 702,1072 692,1112 652,1132 602,1162 562,1172 522,1182 502,1242 472,1232 432,1242 422,1292 302,1202 352,1172 372,1102 422,1082 482,1062 522,1022 562,1012 602,1002 642,992 622,962 652,952 702,962 742,932 762,902 702,892 642,902 582,932 552,902 532,872 482,842 472,762 512,772 542,742 562,722 572,692"/>
   <polygon fill="#fff" points="548,1050 600,1048 612,1080 600,1120 560,1118 545,1090"/>
   <polygon fill="#fff" points="625,975 665,968 700,985 680,1005 640,1000"/>
   <polygon fill="#fff" points="830,880 855,875 860,900 835,905"/>
   <ellipse cx="432" cy="1098" rx="18" ry="12" fill="#fff"/>
   <g fill="#84e084">
    <polygon points="545,640 562,636 560,688 540,686"/>
    <polygon points="728,468 750,470 778,490 770,500 745,490 728,480"/>
    <polygon points="792,515 810,510 828,517 812,525"/>
    <polygon points="658,518 672,516 675,528 660,528"/>
    <polygon points="697,518 710,520 716,535 700,532"/>
    <polygon points="622,535 638,535 638,555 622,555"/>
    <polygon points="572,582 590,580 594,596 575,595"/>
    <polygon points="55,965 80,955 95,970 110,985 125,1000 110,1008 90,1000 70,985"/>
    <polygon points="250,1012 270,1005 290,1020 270,1026"/>
    <polygon points="315,1010 340,1000 360,1005 350,1020 320,1020"/>
    <polygon points="620,1335 640,1300 660,1320 650,1355 625,1360"/>
    <polygon points="665,1270 690,1265 700,1290 715,1270 728,1280 725,1330 700,1330 690,1300 670,1300"/>
    <polygon points="1040,800 1060,790 1065,830 1058,870 1048,840"/>
    <polygon points="1045,740 1065,735 1075,748 1055,752"/>
    <polygon points="997,762 1017,760 1020,775 1000,776"/>
    <polygon points="850,690 870,675 880,690 860,730 848,735 845,710"/>
    <polygon points="966,632 984,632 992,650 972,652"/>
    <polygon points="45,665 60,660 72,685 60,690"/>
    <polygon points="826,745 838,742 840,790 828,788"/>
    <polygon points="386,736 398,734 402,750 390,752"/>
    <polygon points="330,686 340,686 342,700 332,700"/>
    <polygon points="962,1378 972,1376 980,1396 968,1396"/>
    <polygon points="905,946 913,946 915,960 906,960"/>
   </g>
  </g>
  <g fill="#a8c8ff">
   <rect x="520" y="822" width="40" height="14"/><rect x="578" y="852" width="20" height="18"/><rect x="650" y="892" width="28" height="26"/><rect x="740" y="910" width="22" height="48"/><rect x="702" y="990" width="28" height="18"/><rect x="600" y="762" width="20" height="26"/><rect x="700" y="822" width="22" height="18"/><rect x="760" y="950" width="20" height="20"/><rect x="480" y="1160" width="20" height="6"/><rect x="540" y="1028" width="14" height="10"/>
  </g>
  <polygon fill="#8cbeff" points="385,1135 440,1125 450,1142 395,1150"/>
  <polygon fill="#3a5cff" points="655,805 680,808 700,822 690,832 660,820"/>
  <polygon fill="#2a40ff" points="700,770 715,765 722,780 712,815 700,830 690,825 698,800"/>
  <g fill="#84e084"><rect x="62" y="424" width="8" height="10"/><rect x="153" y="498" width="7" height="7"/><rect x="245" y="432" width="7" height="6"/><rect x="92" y="395" width="8" height="6"/><rect x="205" y="1020" width="6" height="6"/><rect x="500" y="1345" width="8" height="6"/></g>
 </g></g>
 <use href="#grid"/>
 <g font-size="12.2" text-anchor="middle" fill="#000">
  <text x="37.2" y="298.8">-140</text><text x="116" y="298.8">-138</text><text x="194.8" y="298.8">-136</text><text x="273.6" y="298.8">-134</text><text x="352.4" y="298.8">-132</text><text x="431.2" y="298.8">-130</text>
  <text x="253.5" y="66.5">18</text><text x="253.5" y="151">16</text><text x="253.5" y="235.5">14</text><text x="253.5" y="320">12</text><text x="253.5" y="404.5">10</text><text x="253.5" y="489">8</text>
 </g>
 <use href="#cbC"/>
 <g font-size="19.5" text-anchor="middle"><text x="524" y="100.3">54</text><text x="524" y="151">48</text><text x="524" y="201.6">42</text><text x="524" y="252.3">36</text><text x="524" y="303">30</text><text x="524" y="353.7">24</text><text x="524" y="404.4">18</text><text x="524" y="455.1">12</text><text x="524" y="505.7">6</text><text x="524" y="556.4">0</text></g>
 <text x="37" y="67" font-size="25">2A12 rainrate (mm/hr)</text>
 <text x="440" y="524" font-size="28.5">(f)</text>
</g>

<!-- ================= (g) ================= -->
<g transform="translate(0,1181.7)">
 <g clip-path="url(#plot)"><g transform="translate(0,-1.7) scale(0.37693)">
  <line x1="1165" y1="110" x2="1292" y2="128" stroke="#cccccc" stroke-width="3"/>
  <g clip-path="url(#swg)">
   <rect x="0" y="0" width="1300" height="1470" fill="#d2d2d2"/>
   <rect x="0" y="0" width="1300" height="1470" fill="url(#motGr)" opacity="0.55"/>
   <ellipse cx="250" cy="450" rx="230" ry="300" fill="#dcdcdc" opacity="0.45"/>
   <ellipse cx="330" cy="1150" rx="300" ry="180" fill="#dadada" opacity="0.45"/>
   <ellipse cx="680" cy="780" rx="470" ry="470" fill="url(#rgG)"/>
   <ellipse cx="1150" cy="1150" rx="160" ry="280" fill="#bebebe" opacity="0.45"/>
   <g stroke="#000" stroke-width="3" stroke-linejoin="round" fill="#76cc76">
    <polygon points="360,250 392,235 412,268 385,300 368,330 358,290"/>
    <polygon points="350,490 372,462 398,472 392,520 378,600 376,680 390,750 420,820 460,880 520,930 590,972 630,1005 600,1022 530,996 460,958 410,900 372,822 352,732 345,622"/>
    <polygon points="445,390 480,345 515,338 548,385 535,450 495,515 470,590 455,560 458,470"/>
    <polygon points="385,1150 420,1130 480,1120 530,1110 560,1080 600,1080 612,1110 560,1140 500,1160 440,1172 390,1172"/>
    <polygon points="450,1010 520,1020 580,1050 640,1070 610,1090 540,1080 470,1060 440,1040"/>
    <polygon points="920,820 950,830 970,900 965,980 940,1030 920,1010 935,940 925,880"/>
    <polygon points="840,950 880,940 900,1000 880,1080 860,1150 840,1250 830,1330 800,1340 810,1250 820,1150 830,1060"/>
    <polygon points="1040,860 1090,790 1180,830 1292,900 1292,1010 1230,1030 1170,990 1100,950 1060,910"/>
    <polygon points="1040,1040 1090,990 1150,980 1200,1010 1260,1020 1292,1030 1292,1110 1230,1100 1180,1120 1120,1130 1070,1110"/>
    <polygon points="1040,1330 1050,1250 1090,1200 1140,1180 1180,1150 1230,1130 1270,1150 1292,1200 1292,1330 1260,1330 1220,1300 1180,1300 1140,1280 1100,1300 1070,1340"/>
    <polygon points="490,1290 540,1260 600,1240 660,1210 720,1180 770,1200 770,1300 760,1400 750,1462 655,1462 580,1400 530,1350"/>
    <polygon fill="#4a78ff" points="60,860 80,840 100,850 105,880 85,895 62,885"/>
    <polygon points="68,985 90,980 96,995 74,1000"/>
    <polygon points="450,1020 480,1015 485,1035 455,1038"/>
    <polygon points="880,1360 910,1350 925,1375 900,1390"/>
   </g>
   <polygon fill="#a8c8ff" points="560,1330 620,1280 690,1250 740,1260 740,1380 720,1462 655,1462 600,1410"/>
   <polygon fill="#8cbeff" points="420,700 438,620 485,560 540,500 600,440 640,420 700,460 800,530 880,600 940,680 960,780 950,880 920,950 870,1010 820,1050 760,1090 700,1080 630,1040 560,1000 490,960 445,900 425,820"/>
   <polygon fill="#3c5aff" points="455,720 475,640 512,590 560,540 610,490 650,460 720,500 800,560 860,620 910,690 930,780 920,870 890,930 840,980 780,1020 720,1030 660,1010 590,980 530,950 490,910 462,850 455,790"/>
   <polygon fill="#1a28e8" points="500,720 540,630 600,580 700,585 780,620 840,680 870,760 860,860 820,920 760,960 700,975 630,955 570,925 525,875 505,800"/>
   <polygon fill="#4a78ff" points="800,1000 860,960 880,990 850,1080 830,1160 815,1250 800,1350 790,1462 740,1462 752,1350 765,1250 775,1150 782,1070"/>
   <polygon fill="#8cbeff" points="790,1100 815,1100 805,1300 780,1400 765,1400 775,1250"/>
   <polygon fill="#3c5aff" points="1100,820 1150,835 1292,915 1292,985 1235,1000 1185,955 1140,925 1100,885 1070,855"/>
   <polygon fill="#4a78ff" points="1090,1010 1150,1000 1200,1040 1180,1090 1120,1100 1095,1060"/>
   <polygon fill="#4a78ff" points="1190,1150 1240,1140 1270,1180 1260,1240 1220,1260 1195,1220"/>
   <polygon fill="#ffd000" points="1170,840 1200,850 1210,880 1240,880 1260,900 1240,910 1200,900 1180,880"/>
   <polygon fill="#ff8c00" points="1205,875 1235,878 1245,895 1215,895"/>
   <polygon fill="#ff8c00" points="1110,1035 1130,1030 1135,1060 1115,1065"/>
   <polygon fill="#ff8c00" points="1225,1165 1245,1160 1250,1195 1230,1200"/>
   <polygon fill="#ffd000" points="1200,1080 1230,1078 1232,1092 1205,1094"/>
   <polygon fill="#ffd000" points="880,1055 900,1050 905,1085 885,1088"/>
   <polygon fill="#ffd000" points="655,455 670,445 678,465 662,472"/>
   <polygon fill="#ffd000" points="860,660 885,670 895,700 875,705 858,685"/>
   <polygon fill="#ffd000" points="840,620 860,625 862,640 842,638"/>
   <polygon fill="#ffdc00" stroke="#000" stroke-width="3" points="520,800 530,740 560,690 575,630 600,610 620,570 635,545 650,590 700,610 750,650 800,670 830,720 840,790 830,850 800,890 760,915 710,935 650,925 590,905 545,870 525,840"/>
   <polygon fill="#ff8c00" points="555,790 565,740 590,700 630,680 680,665 740,665 790,685 815,730 825,790 815,845 790,880 750,905 700,915 650,900 600,880 565,845"/>
   <polygon fill="#ff6000" points="570,800 585,750 620,715 680,695 750,690 800,720 812,790 800,850 770,885 720,905 670,895 620,875 585,845"/>
   <polygon fill="#c80000" stroke="#000" stroke-width="3" points="580,820 590,790 615,770 640,745 660,720 680,690 720,668 770,672 800,700 812,760 812,830 800,870 770,895 730,912 690,910 665,890 640,868 600,860"/>
   <polygon fill="#a80800" points="680,720 740,700 780,730 792,800 772,860 722,882 690,850 680,790"/>
   <ellipse cx="740" cy="790" rx="40" ry="40" fill="#8a3030" opacity="0.45"/>
   <polygon fill="none" stroke="#000" stroke-width="3" points="610,780 640,760 660,775 650,800 630,810 612,800"/>
  </g>
 </g></g>
 <use href="#grid"/>
 <g font-size="12.2" text-anchor="middle" fill="#000">
  <text x="37.2" y="298.8">-140</text><text x="116" y="298.8">-138</text><text x="194.8" y="298.8">-136</text><text x="273.6" y="298.8">-134</text><text x="352.4" y="298.8">-132</text><text x="431.2" y="298.8">-130</text>
  <text x="253.5" y="66.5">18</text><text x="253.5" y="151">16</text><text x="253.5" y="235.5">14</text><text x="253.5" y="320">12</text><text x="253.5" y="404.5">10</text><text x="253.5" y="489">8</text>
 </g>
 <use href="#cbA"/>
 <g font-size="19.5" text-anchor="middle"><text x="524" y="100.3">196</text><text x="524" y="151">208</text><text x="524" y="201.6">220</text><text x="524" y="252.3">232</text><text x="524" y="303">244</text><text x="524" y="353.7">256</text><text x="524" y="404.4">268</text><text x="524" y="455.1">280</text><text x="524" y="505.7">292</text><text x="524" y="556.4">304</text></g>
 <text x="37" y="66" font-size="25">VIRS T<tspan font-size="15" dy="5">B11</tspan><tspan dy="-5"> (K)</tspan></text>
 <text x="440" y="524" font-size="28.5">(g)</text>
</g>

<!-- ================= (h) ================= -->
<g transform="translate(590.3,1181.7)">
 <g clip-path="url(#plot)"><g transform="translate(-0.3,-1.7) scale(0.37693)">
  <g fill="#0000ff">
   <polygon points="585,735 605,740 615,770 640,775 670,800 700,820 740,840 770,875 760,890 740,900 710,930 690,945 670,940 640,935 610,930 590,910 575,895 570,880 585,870 600,850 592,820 600,800 590,770"/>
   <polygon points="785,905 810,910 805,940 790,960 780,990 800,1000 825,1000 820,1015 800,1020 775,1035 760,1020 740,1030 720,1050 700,1070 680,1080 665,1090 670,1060 690,1040 705,1010 720,980 745,950 765,920"/>
   <polygon points="642,1000 665,990 690,984 692,1000 662,1006"/>
   <polygon points="595,1025 612,1012 628,1012 620,1025 600,1030"/>
   <polygon points="514,815 540,807 566,815 580,830 570,846 556,870 534,866 529,846 514,830"/>
   <polygon points="485,770 500,765 510,785 495,792"/>
   <rect x="130" y="632" width="6" height="6"/><rect x="148" y="632" width="6" height="6"/><rect x="408" y="866" width="6" height="6"/><rect x="906" y="1270" width="6" height="6"/><rect x="818" y="1137" width="6" height="6"/><rect x="560" y="1020" width="6" height="6"/>
  </g>
  <g fill="#ff4000">
   <polygon points="640,815 700,818 702,832 660,836 642,828"/>
   <polygon points="700,845 725,848 728,858 705,860"/>
   <polygon points="655,995 680,990 688,1002 660,1006"/>
   <polygon points="705,985 720,980 725,1000 708,1002"/>
   <polygon points="760,925 775,920 778,940 762,942"/>
   <rect x="336" y="690" width="9" height="9"/><rect x="398" y="730" width="8" height="8"/><rect x="402" y="762" width="10" height="10"/><rect x="342" y="764" width="8" height="8"/><rect x="458" y="796" width="8" height="8"/><rect x="462" y="828" width="8" height="8"/><rect x="478" y="848" width="8" height="8"/><rect x="508" y="858" width="8" height="8"/><rect x="518" y="908" width="8" height="8"/><rect x="538" y="962" width="10" height="8"/><rect x="556" y="958" width="10" height="8"/><rect x="518" y="968" width="8" height="8"/><rect x="678" y="1058" width="6" height="6"/><rect x="608" y="1018" width="8" height="8"/><rect x="72" y="442" width="6" height="8"/><rect x="38" y="462" width="5" height="5"/><rect x="36" y="510" width="6" height="6"/><rect x="90" y="478" width="5" height="5"/><rect x="178" y="570" width="6" height="6"/><rect x="126" y="655" width="6" height="6"/><rect x="983" y="1218" width="5" height="5"/><rect x="1003" y="1200" width="6" height="6"/><rect x="983" y="1258" width="5" height="5"/><rect x="990" y="1283" width="5" height="5"/><rect x="1232" y="1342" width="6" height="6"/><rect x="848" y="978" width="6" height="6"/><rect x="545" y="828" width="8" height="8"/><rect x="570" y="835" width="6" height="6"/><rect x="630" y="905" width="8" height="8"/><rect x="660" y="915" width="6" height="6"/><rect x="720" y="870" width="6" height="6"/>
  </g>
 </g></g>
 <use href="#grid"/>
 <g font-size="12.2" text-anchor="middle" fill="#000">
  <text x="37.2" y="298.8">-140</text><text x="116" y="298.8">-138</text><text x="194.8" y="298.8">-136</text><text x="273.6" y="298.8">-134</text><text x="352.4" y="298.8">-132</text><text x="431.2" y="298.8">-130</text>
  <text x="253.5" y="66.5">18</text><text x="253.5" y="151">16</text><text x="253.5" y="235.5">14</text><text x="253.5" y="320">12</text><text x="253.5" y="404.5">10</text><text x="253.5" y="489">8</text>
 </g>
 <rect x="495.6" y="39.8" width="8.8" height="169.6" fill="#ff4000"/>
 <rect x="495.6" y="209.4" width="8.8" height="168.8" fill="#0000ff"/>
 <rect x="495.6" y="378.2" width="8.8" height="169.3" fill="#ffffff"/>
 <rect x="495.6" y="39.8" width="8.8" height="507.7" fill="none" stroke="#555" stroke-width="1"/>
 <g stroke="#000" stroke-width="1"><line x1="504.4" y1="40" x2="508" y2="40"/><line x1="504.4" y1="209.4" x2="508" y2="209.4"/><line x1="504.4" y1="378.2" x2="508" y2="378.2"/></g>
 <g font-size="19.5"><text x="508" y="48.6">Conv</text><text x="508" y="218.3">Strat</text><text x="508" y="388">N/A</text></g>
 <text x="37" y="67" font-size="25">2A23 rain types</text>
 <text x="440" y="524" font-size="28.5">(h)</text>
</g>

<!-- ================= (i) ================= -->
<g transform="translate(1180.6,1181.7)">
 <g clip-path="url(#plot)"><g transform="translate(-9.6,-10.7) scale(0.38266)">
  <polygon fill="#e6e6e6" points="420,720 470,710 500,760 490,800 460,860 430,820"/>
  <polygon fill="#d0d0d0" opacity="0.85" points="500,790 540,770 580,780 605,795 620,815 600,860 580,880 560,900 540,925 515,905 490,880 470,850 480,820"/>
  <polygon fill="#c4c4c4" points="600,1040 640,1010 700,990 740,960 780,940 820,920 835,960 805,1000 780,1030 740,1042 720,1070 700,1092 680,1102 668,1080 648,1062 620,1052"/>
  <polygon fill="#d4d4d4" points="560,960 600,950 610,975 570,985"/>
  <polygon fill="#76cc76" points="600,750 616,760 640,776 690,790 722,820 760,858 790,884 820,918 830,940 800,960 762,980 740,990 700,972 680,962 640,950 600,932 585,905 590,880 600,860 605,830 610,800 605,775"/>
  <polygon fill="#9c9c9c" opacity="0.7" points="590,880 620,870 640,900 630,930 600,925"/>
  <polygon fill="#76cc76" points="740,960 780,940 812,922 832,945 820,972 800,992 780,1020 760,1032 745,1012 735,990"/>
  <polygon fill="#76cc76" points="780,990 820,985 845,1010 820,1022 790,1018"/>
  <polygon fill="#76cc76" points="640,1000 670,995 672,1012 645,1015"/>
  <polygon fill="#8cbeff" points="630,780 680,792 712,822 742,860 752,900 746,942 720,956 690,942 660,932 640,902 630,870 628,830"/>
  <polygon fill="#b0c8ff" points="640,880 700,880 730,920 700,945 660,930"/>
  <polygon fill="#1a30f0" points="648,812 668,808 672,825 655,828"/>
  <polygon fill="#0000d0" points="700,825 720,828 740,850 725,855 705,842"/>
  <circle cx="700" cy="843" r="4" fill="#ffe000"/>
  <polygon fill="#8cbeff" points="740,1010 755,1008 752,1030 740,1028"/>
  <g fill="#dddddd"><rect x="98" y="455" width="8" height="10"/><rect x="108" y="558" width="6" height="6"/><rect x="66" y="525" width="8" height="6"/><rect x="200" y="588" width="6" height="6"/><rect x="355" y="710" width="8" height="8"/><rect x="415" y="745" width="8" height="8"/><rect x="1018" y="1205" width="6" height="6"/><rect x="993" y="1228" width="6" height="6"/><rect x="1000" y="1262" width="6" height="6"/><rect x="1238" y="1345" width="6" height="6"/></g>
  <rect x="155" y="648" width="5" height="5" fill="#4a78ff"/><rect x="172" y="650" width="5" height="5" fill="#ffd000"/><rect x="510" y="876" width="5" height="5" fill="#4a78ff"/><rect x="918" y="1277" width="5" height="5" fill="#e00000"/><rect x="831" y="1145" width="5" height="5" fill="#76cc76"/>
 </g></g>
 <use href="#grid"/>
 <g font-size="12.2" text-anchor="middle" fill="#000">
  <text x="37.2" y="298.8">-140</text><text x="116" y="298.8">-138</text><text x="194.8" y="298.8">-136</text><text x="273.6" y="298.8">-134</text><text x="352.4" y="298.8">-132</text><text x="431.2" y="298.8">-130</text>
  <text x="253.5" y="66.5">18</text><text x="253.5" y="151">16</text><text x="253.5" y="235.5">14</text><text x="253.5" y="320">12</text><text x="253.5" y="404.5">10</text><text x="253.5" y="489">8</text>
 </g>
 <use href="#cbA"/>
 <g font-size="19.5" text-anchor="middle"><text x="532.5" y="100.3">18.0</text><text x="532.5" y="151">16.0</text><text x="532.5" y="201.6">14.0</text><text x="532.5" y="252.3">12.0</text><text x="532.5" y="303">10.0</text><text x="532.5" y="353.7">8.0</text><text x="532.5" y="404.4">6.0</text><text x="532.5" y="455.1">4.0</text><text x="532.5" y="505.7">2.0</text><text x="532.5" y="556.4">0.0</text></g>
 <text x="37" y="67" font-size="25">2A23 storm height (km)</text>
 <text x="440" y="524" font-size="28.5">(i)</text>
</g>
</svg>
</body></html>
